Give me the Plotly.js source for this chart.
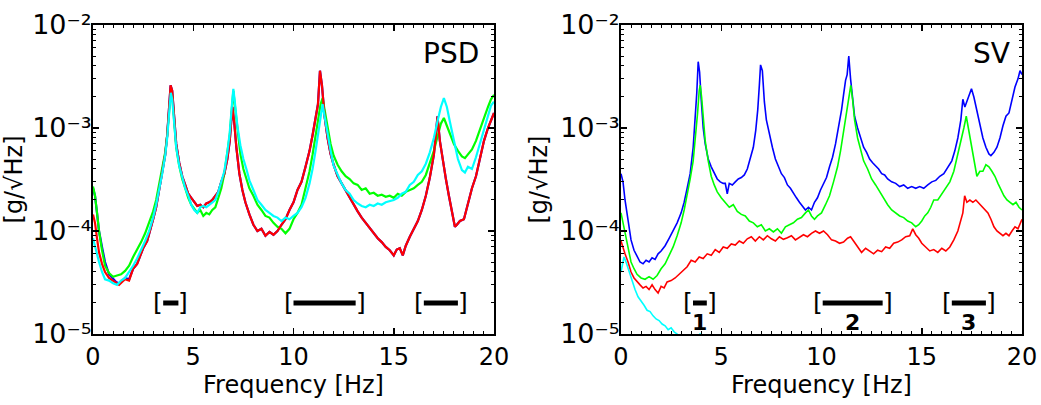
<!DOCTYPE html>
<html>
<head>
<meta charset="utf-8">
<script src="https://cdn.plot.ly/plotly-3.0.1.min.js"></script>
<style>html,body{margin:0;padding:0;background:#fff}</style>
</head>
<body>
<div id="chart" style="width:1041px;height:405px"></div>
<script>
// ---------- PSD panel data ----------
const psdF1 = [0,0.1,0.2,0.3,0.45,0.6,0.8,1.0,1.15,1.3,1.45,1.6,1.8,2.0,2.2,2.35,2.5,2.7,2.85,3.0,3.15,3.3,3.45,3.6,3.7,3.8,3.87,3.95,4.05,4.15,4.3,4.45,4.6,4.75,4.9,5.05,5.2,5.35,5.5,5.65,5.8,5.95,6.1,6.25,6.4,6.55,6.7,6.82,6.95,7.05,7.15,7.3,7.45,7.6,7.8,8.0,8.2,8.4,8.6,8.8,9.0,9.2,9.4,9.6,9.8,10.0,10.2,10.4,10.6,10.8,10.95,11.1,11.22,11.32,11.42,11.55,11.7,11.85,12.0,12.2,12.4,12.6,12.8,13.0,13.2,13.4,13.6,13.8,14.0,14.2,14.4,14.6,14.8,15.0,15.15,15.3,15.45,15.6,15.8,16.0,16.2,16.4,16.6,16.8,17.0,17.1,17.18,17.3,17.45,17.6,17.75,17.9,18.05,18.15,18.3,18.5,18.7,18.9,19.1,19.3,19.5,19.7,19.85,20.0];
const psdRed = [1.45e-4,1.2e-4,8.5e-5,6.2e-5,4.8e-5,4.0e-5,3.5e-5,3.3e-5,3.1e-5,3.0e-5,3.2e-5,3.4e-5,3.3e-5,4.3e-5,4.8e-5,5.6e-5,6.8e-5,8.0e-5,1.0e-4,1.3e-4,1.7e-4,2.5e-4,3.4e-4,5.5e-4,8.5e-4,1.5e-3,2.6e-3,2.3e-3,1.2e-3,7.0e-4,4.6e-4,3.4e-4,2.8e-4,2.3e-4,2.1e-4,1.9e-4,1.75e-4,1.8e-4,1.7e-4,1.85e-4,1.9e-4,2.0e-4,2.2e-4,2.4e-4,3.0e-4,3.6e-4,5.0e-4,7.5e-4,1.6e-3,1.1e-3,6.5e-4,3.6e-4,2.5e-4,1.9e-4,1.45e-4,1.15e-4,1.0e-4,1.05e-4,9.0e-5,9.8e-5,9.2e-5,1.0e-4,1.15e-4,1.3e-4,1.6e-4,1.9e-4,2.5e-4,3.0e-4,4.2e-4,6.0e-4,8.5e-4,1.2e-3,1.7e-3,3.6e-3,2.6e-3,1.3e-3,8.0e-4,5.6e-4,4.4e-4,3.4e-4,2.9e-4,2.5e-4,2.1e-4,1.8e-4,1.55e-4,1.35e-4,1.2e-4,1.05e-4,9.5e-5,8.5e-5,7.8e-5,7.0e-5,6.5e-5,5.8e-5,6.6e-5,6.8e-5,5.8e-5,7.2e-5,8.8e-5,1.05e-4,1.25e-4,1.6e-4,2.2e-4,3.3e-4,5.5e-4,8.5e-4,1.3e-3,7.5e-4,4.8e-4,3.2e-4,2.2e-4,1.6e-4,1.1e-4,1.15e-4,1.25e-4,1.3e-4,1.9e-4,2.6e-4,3.4e-4,5.0e-4,7.5e-4,1.0e-3,1.2e-3,1.4e-3];
const psdBlue = [2.6e-4,2.2e-4,1.5e-4,1.0e-4,7.0e-5,5.0e-5,3.8e-5,3.4e-5,3.2e-5,3.1e-5,3.3e-5,3.5e-5,3.4e-5,4.3e-5,4.8e-5,5.6e-5,6.8e-5,8.0e-5,1.0e-4,1.3e-4,1.7e-4,2.5e-4,3.4e-4,5.5e-4,8.5e-4,1.5e-3,2.6e-3,2.3e-3,1.2e-3,7.0e-4,4.6e-4,3.4e-4,2.8e-4,2.3e-4,2.1e-4,1.9e-4,1.75e-4,1.8e-4,1.7e-4,1.85e-4,1.9e-4,2.0e-4,2.2e-4,2.4e-4,3.0e-4,3.6e-4,5.0e-4,7.5e-4,1.6e-3,1.1e-3,6.5e-4,3.6e-4,2.5e-4,1.9e-4,1.45e-4,1.15e-4,1.0e-4,1.05e-4,9.0e-5,9.8e-5,9.2e-5,1.0e-4,1.15e-4,1.3e-4,1.6e-4,1.9e-4,2.5e-4,3.0e-4,4.2e-4,6.0e-4,8.5e-4,1.2e-3,1.7e-3,3.6e-3,2.6e-3,1.3e-3,8.0e-4,5.6e-4,4.4e-4,3.4e-4,2.9e-4,2.5e-4,2.1e-4,1.8e-4,1.55e-4,1.35e-4,1.2e-4,1.05e-4,9.5e-5,8.5e-5,7.8e-5,7.0e-5,6.5e-5,5.8e-5,6.6e-5,6.8e-5,5.8e-5,7.2e-5,8.8e-5,1.05e-4,1.25e-4,1.6e-4,2.2e-4,3.3e-4,5.5e-4,8.5e-4,1.3e-3,7.5e-4,4.8e-4,3.2e-4,2.2e-4,1.6e-4,1.1e-4,1.15e-4,1.25e-4,1.3e-4,1.9e-4,2.6e-4,3.4e-4,5.0e-4,7.5e-4,1.0e-3,1.2e-3,1.4e-3];
const psdF2 = [0,0.1,0.2,0.3,0.45,0.6,0.8,1.0,1.2,1.4,1.6,1.8,2.0,2.2,2.4,2.6,2.8,3.0,3.15,3.3,3.45,3.6,3.7,3.8,3.88,3.95,4.05,4.15,4.3,4.45,4.6,4.75,4.9,5.05,5.2,5.35,5.5,5.65,5.8,5.95,6.1,6.25,6.4,6.55,6.7,6.82,6.92,7.0,7.1,7.2,7.35,7.5,7.65,7.8,8.0,8.2,8.4,8.6,8.8,9.0,9.2,9.4,9.6,9.8,10.0,10.2,10.4,10.6,10.8,10.95,11.1,11.25,11.35,11.45,11.55,11.7,11.85,12.0,12.2,12.4,12.6,12.8,13.0,13.2,13.4,13.6,13.8,14.0,14.2,14.4,14.6,14.8,15.0,15.2,15.4,15.6,15.8,16.0,16.2,16.4,16.6,16.8,17.0,17.2,17.35,17.5,17.65,17.8,18.0,18.2,18.4,18.55,18.7,18.9,19.1,19.3,19.5,19.7,19.85,20.0];
const psdGreen = [2.7e-4,2.2e-4,1.5e-4,1.0e-4,6.5e-5,4.6e-5,3.9e-5,3.6e-5,3.7e-5,3.8e-5,4.1e-5,4.6e-5,5.6e-5,6.6e-5,7.8e-5,9.5e-5,1.2e-4,1.55e-4,2.0e-4,2.8e-4,3.8e-4,5.8e-4,8.5e-4,1.5e-3,2.3e-3,2.1e-3,1.1e-3,6.5e-4,4.3e-4,3.2e-4,2.6e-4,2.1e-4,1.8e-4,1.65e-4,1.5e-4,1.6e-4,1.4e-4,1.5e-4,1.45e-4,1.6e-4,1.7e-4,2.1e-4,2.6e-4,3.6e-4,5.5e-4,8.5e-4,1.5e-3,2.3e-3,1.5e-3,9.5e-4,5.6e-4,4.0e-4,3.2e-4,2.6e-4,2.2e-4,1.8e-4,1.6e-4,1.4e-4,1.35e-4,1.2e-4,1.1e-4,1.05e-4,9.5e-5,1.05e-4,1.3e-4,1.5e-4,1.8e-4,2.6e-4,3.8e-4,5.5e-4,8.5e-4,1.3e-3,1.7e-3,1.95e-3,1.5e-3,1.0e-3,7.0e-4,5.4e-4,4.4e-4,3.8e-4,3.4e-4,3.2e-4,2.9e-4,2.8e-4,2.5e-4,2.6e-4,2.3e-4,2.35e-4,2.2e-4,2.25e-4,2.15e-4,2.2e-4,2.1e-4,2.3e-4,2.2e-4,2.4e-4,2.5e-4,2.6e-4,2.8e-4,3.0e-4,3.5e-4,4.5e-4,6.0e-4,8.5e-4,1.1e-3,1.25e-3,1.05e-3,8.5e-4,7.0e-4,6.0e-4,5.3e-4,5.1e-4,5.5e-4,6.2e-4,7.5e-4,9.5e-4,1.25e-3,1.6e-3,1.9e-3,2.1e-3];
const psdCyan = [8.5e-5,7.0e-5,5.8e-5,5.0e-5,4.0e-5,3.4e-5,3.3e-5,3.1e-5,3.0e-5,3.3e-5,3.5e-5,4.0e-5,4.6e-5,5.4e-5,6.5e-5,8.0e-5,1.0e-4,1.35e-4,1.8e-4,2.5e-4,3.6e-4,5.4e-4,8.0e-4,1.4e-3,2.2e-3,1.9e-3,1.1e-3,6.5e-4,4.3e-4,3.3e-4,2.6e-4,2.2e-4,1.8e-4,1.6e-4,1.5e-4,1.7e-4,1.75e-4,1.7e-4,1.8e-4,1.9e-4,2.0e-4,2.4e-4,3.0e-4,3.8e-4,5.8e-4,9.0e-4,1.6e-3,2.4e-3,1.6e-3,1.05e-3,6.8e-4,5.0e-4,4.0e-4,3.1e-4,2.5e-4,2.0e-4,1.8e-4,1.6e-4,1.5e-4,1.4e-4,1.35e-4,1.25e-4,1.35e-4,1.3e-4,1.4e-4,1.5e-4,1.7e-4,2.1e-4,2.9e-4,4.0e-4,6.0e-4,9.0e-4,1.3e-3,1.7e-3,1.3e-3,8.5e-4,6.0e-4,4.3e-4,3.5e-4,2.9e-4,2.5e-4,2.3e-4,2.0e-4,1.85e-4,1.75e-4,1.7e-4,1.8e-4,1.75e-4,1.85e-4,1.8e-4,1.9e-4,1.95e-4,2.0e-4,2.1e-4,2.3e-4,2.4e-4,2.8e-4,3.0e-4,3.5e-4,3.8e-4,4.5e-4,5.8e-4,8.0e-4,1.2e-3,1.6e-3,1.95e-3,1.6e-3,1.15e-3,7.5e-4,5.0e-4,3.9e-4,3.7e-4,4.2e-4,4.0e-4,5.2e-4,7.0e-4,9.5e-4,1.3e-3,1.65e-3,1.8e-3];

// ---------- SV panel data ----------
const svBlueF = [0,0.1,0.2,0.35,0.5,0.65,0.8,0.95,1.1,1.25,1.4,1.55,1.7,1.85,2.0,2.2,2.4,2.6,2.8,3.0,3.15,3.3,3.45,3.6,3.7,3.78,3.85,3.92,4.0,4.1,4.2,4.35,4.5,4.65,4.8,4.95,5.1,5.2,5.3,5.4,5.55,5.7,5.85,6.0,6.15,6.3,6.45,6.6,6.72,6.82,6.9,6.96,7.05,7.15,7.25,7.4,7.55,7.7,7.85,8.0,8.15,8.3,8.45,8.6,8.75,8.9,9.05,9.2,9.35,9.5,9.65,9.8,9.95,10.1,10.25,10.4,10.55,10.7,10.85,11.0,11.1,11.2,11.28,11.36,11.45,11.55,11.65,11.8,11.95,12.1,12.25,12.4,12.55,12.7,12.85,13.0,13.15,13.3,13.5,13.7,13.9,14.1,14.3,14.5,14.7,14.9,15.1,15.3,15.5,15.7,15.9,16.1,16.3,16.5,16.65,16.8,16.95,17.05,17.15,17.25,17.35,17.48,17.6,17.75,17.9,18.05,18.2,18.35,18.45,18.6,18.75,18.9,19.05,19.2,19.35,19.5,19.65,19.8,19.9,20.0];
const svBlue = [3.6e-4,3.0e-4,2.0e-4,1.2e-4,8.2e-5,6.5e-5,5.6e-5,5.0e-5,4.8e-5,5.2e-5,5.0e-5,5.5e-5,5.3e-5,6.0e-5,6.4e-5,7.2e-5,8.5e-5,1.0e-4,1.2e-4,1.5e-4,1.9e-4,2.6e-4,3.6e-4,6.5e-4,1.2e-3,2.2e-3,4.4e-3,3.5e-3,1.9e-3,1.0e-3,7.0e-4,5.0e-4,4.2e-4,3.6e-4,3.2e-4,3.0e-4,2.9e-4,2.9e-4,2.3e-4,2.9e-4,2.8e-4,3.0e-4,3.2e-4,3.3e-4,3.5e-4,4.0e-4,5.0e-4,6.5e-4,9.5e-4,1.5e-3,2.6e-3,4.1e-3,3.6e-3,1.8e-3,1.2e-3,8.5e-4,6.5e-4,5.0e-4,4.2e-4,3.6e-4,3.3e-4,2.8e-4,2.6e-4,2.3e-4,2.1e-4,1.9e-4,1.75e-4,1.6e-4,1.7e-4,1.6e-4,1.9e-4,2.1e-4,2.5e-4,2.9e-4,3.3e-4,4.2e-4,5.2e-4,7.0e-4,1.0e-3,1.5e-3,2.1e-3,2.9e-3,3.3e-3,5.0e-3,3.0e-3,1.9e-3,1.3e-3,1.0e-3,8.0e-4,6.5e-4,5.8e-4,5.0e-4,4.6e-4,4.3e-4,4.0e-4,3.6e-4,3.5e-4,3.2e-4,3.0e-4,2.9e-4,2.7e-4,2.8e-4,2.6e-4,2.7e-4,2.6e-4,2.7e-4,2.6e-4,2.8e-4,3.0e-4,3.1e-4,3.4e-4,3.6e-4,4.2e-4,4.8e-4,6.0e-4,8.0e-4,1.2e-3,1.9e-3,1.6e-3,1.8e-3,2.0e-3,2.4e-3,2.0e-3,1.5e-3,1.1e-3,8.0e-4,6.5e-4,5.6e-4,5.4e-4,5.8e-4,6.5e-4,8.0e-4,1.05e-3,1.3e-3,1.4e-3,1.9e-3,2.5e-3,3.0e-3,3.6e-3,3.3e-3];
const svGreenF = [0,0.1,0.2,0.35,0.5,0.65,0.8,1.0,1.2,1.4,1.6,1.8,2.0,2.2,2.4,2.6,2.8,3.0,3.15,3.3,3.45,3.6,3.72,3.82,3.9,3.95,4.02,4.1,4.2,4.35,4.5,4.65,4.8,5.0,5.2,5.4,5.6,5.8,6.0,6.2,6.4,6.6,6.8,7.0,7.2,7.4,7.6,7.8,8.0,8.2,8.4,8.6,8.8,9.0,9.2,9.35,9.5,9.65,9.8,10.0,10.2,10.4,10.6,10.8,10.95,11.1,11.25,11.38,11.46,11.55,11.65,11.8,11.95,12.1,12.3,12.5,12.7,12.9,13.1,13.3,13.5,13.7,13.9,14.1,14.3,14.5,14.7,14.85,15.0,15.15,15.3,15.45,15.6,15.8,16.0,16.2,16.4,16.6,16.8,16.95,17.1,17.22,17.32,17.45,17.6,17.75,17.9,18.05,18.2,18.35,18.5,18.65,18.8,18.95,19.1,19.25,19.4,19.55,19.7,19.85,20.0];
const svGreen = [1.5e-4,1.2e-4,9.0e-5,6.5e-5,5.0e-5,4.3e-5,3.8e-5,3.5e-5,3.4e-5,3.6e-5,3.4e-5,3.7e-5,4.3e-5,4.8e-5,5.8e-5,7.0e-5,9.0e-5,1.2e-4,1.6e-4,2.2e-4,3.2e-4,4.8e-4,8.0e-4,1.4e-3,2.3e-3,2.6e-3,2.0e-3,1.2e-3,7.5e-4,4.8e-4,3.4e-4,2.8e-4,2.4e-4,2.1e-4,1.9e-4,1.7e-4,1.8e-4,1.55e-4,1.45e-4,1.4e-4,1.25e-4,1.2e-4,1.1e-4,1.15e-4,1.0e-4,1.05e-4,9.8e-5,1.05e-4,9.5e-5,1.1e-4,1.15e-4,1.2e-4,1.3e-4,1.35e-4,1.5e-4,1.6e-4,1.4e-4,1.3e-4,1.4e-4,1.5e-4,1.8e-4,2.2e-4,3.0e-4,4.2e-4,6.0e-4,9.0e-4,1.4e-3,2.1e-3,2.6e-3,1.9e-3,1.2e-3,8.0e-4,6.0e-4,4.8e-4,4.0e-4,3.2e-4,2.8e-4,2.4e-4,2.1e-4,1.8e-4,1.6e-4,1.5e-4,1.4e-4,1.35e-4,1.25e-4,1.2e-4,1.1e-4,1.15e-4,1.25e-4,1.4e-4,1.5e-4,1.7e-4,2.0e-4,2.0e-4,2.3e-4,2.6e-4,3.0e-4,3.8e-4,5.5e-4,7.5e-4,1.0e-3,1.3e-3,1.0e-3,7.0e-4,5.0e-4,3.4e-4,3.8e-4,3.8e-4,4.4e-4,4.2e-4,3.8e-4,3.4e-4,2.9e-4,2.5e-4,2.2e-4,2.0e-4,1.9e-4,1.8e-4,1.9e-4,1.7e-4,1.6e-4];
const svRedF = [0,0.1,0.2,0.35,0.5,0.65,0.8,0.95,1.1,1.25,1.4,1.55,1.7,1.85,2.0,2.15,2.3,2.5,2.7,2.9,3.1,3.3,3.5,3.7,3.9,4.1,4.3,4.5,4.7,4.9,5.1,5.3,5.5,5.7,5.9,6.1,6.3,6.5,6.7,6.9,7.1,7.3,7.5,7.7,7.9,8.1,8.3,8.5,8.7,8.9,9.1,9.3,9.5,9.7,9.9,10.1,10.3,10.5,10.7,10.9,11.1,11.3,11.45,11.6,11.8,12.0,12.2,12.4,12.6,12.8,13.0,13.2,13.4,13.6,13.8,14.0,14.2,14.4,14.55,14.7,14.85,15.0,15.2,15.4,15.6,15.8,16.0,16.2,16.4,16.6,16.8,16.95,17.05,17.14,17.25,17.4,17.55,17.7,17.85,18.0,18.15,18.3,18.45,18.6,18.75,18.9,19.05,19.2,19.35,19.5,19.65,19.8,20.0];
const svRed = [8.0e-5,6.8e-5,6.0e-5,5.0e-5,4.0e-5,3.5e-5,3.2e-5,3.0e-5,2.8e-5,2.9e-5,2.7e-5,3.0e-5,2.7e-5,2.5e-5,2.9e-5,2.8e-5,3.2e-5,3.3e-5,3.5e-5,3.8e-5,4.2e-5,4.5e-5,5.2e-5,5.0e-5,5.6e-5,5.4e-5,6.0e-5,5.8e-5,6.6e-5,6.2e-5,7.0e-5,6.8e-5,7.5e-5,7.3e-5,8.0e-5,7.6e-5,8.4e-5,8.8e-5,8.0e-5,8.8e-5,8.2e-5,9.0e-5,8.4e-5,8.0e-5,8.8e-5,8.3e-5,8.6e-5,9.0e-5,8.2e-5,8.7e-5,9.2e-5,8.8e-5,9.5e-5,1.0e-4,9.5e-5,1.0e-4,9.2e-5,8.2e-5,8.0e-5,7.6e-5,7.8e-5,8.5e-5,8.8e-5,8.0e-5,7.0e-5,6.2e-5,6.8e-5,6.4e-5,6.0e-5,6.5e-5,6.3e-5,7.0e-5,6.8e-5,7.6e-5,7.8e-5,8.2e-5,8.8e-5,9.0e-5,1.05e-4,9.2e-5,8.5e-5,7.6e-5,7.0e-5,6.4e-5,6.6e-5,6.2e-5,6.8e-5,6.4e-5,7.0e-5,8.2e-5,1.0e-4,1.25e-4,1.5e-4,2.2e-4,1.9e-4,2.0e-4,1.9e-4,2.0e-4,1.85e-4,1.75e-4,1.6e-4,1.5e-4,1.3e-4,1.1e-4,1.0e-4,9.5e-5,9.0e-5,9.5e-5,9.0e-5,1.0e-4,1.1e-4,1.05e-4,1.3e-4];
const svCyanF = [0,0.08,0.15,0.25,0.4,0.55,0.7,0.85,1.0,1.15,1.3,1.45,1.6,1.75,1.9,2.05,2.2,2.35,2.5,2.65,2.8,3.0,3.3,3.6,3.94,4.2];
const svCyan = [4.0e-5,5.0e-5,5.6e-5,5.0e-5,4.0e-5,3.2e-5,2.7e-5,2.3e-5,2.1e-5,1.9e-5,1.7e-5,1.65e-5,1.5e-5,1.4e-5,1.35e-5,1.25e-5,1.2e-5,1.1e-5,1.15e-5,1.05e-5,1.0e-5,9.0e-6,9.5e-6,8.5e-6,1.0e-5,8.0e-6];

// ---------- frequency bands (Hz) ----------
const psdBandStart = [3.5, 10.0, 16.5];
const psdBandEnd   = [4.26, 13.1, 18.2];
const svBandStart  = [3.59, 10.06, 16.5];
const svBandEnd    = [4.28, 13.05, 18.2];
const svBandLabels = ['1', '2', '3'];
const bandLevel = 2.0e-5;
const labelLevel = 1.3e-5;

const yTickVals = [1e-5, 1e-4, 1e-3, 1e-2];
const yTickText = ['10\u207B\u2075', '10\u207B\u2074', '10\u207B\u00B3', '10\u207B\u00B2'];
const xTickVals = [0, 5, 10, 15, 20];

const COL = {blue:'#0000ff', green:'#00ff00', red:'#ff0000', cyan:'#00ffff'};
const FONT = 'DejaVu Sans, Verdana, sans-serif';

function line(x, y, color, w, xa, ya) {
  return {type:'scatter', mode:'lines', x:x, y:y, xaxis:xa, yaxis:ya,
          line:{color:color, width:w}, hoverinfo:'skip'};
}

const traces = [
  line(psdF1, psdBlue, COL.blue, 2.2, 'x', 'y'),
  line(psdF2, psdGreen, COL.green, 2.2, 'x', 'y'),
  line(psdF1, psdRed, COL.red, 2.2, 'x', 'y'),
  line(psdF2, psdCyan, COL.cyan, 2.2, 'x', 'y'),
  line(svBlueF, svBlue, COL.blue, 1.6, 'x2', 'y2'),
  line(svGreenF, svGreen, COL.green, 1.6, 'x2', 'y2'),
  line(svRedF, svRed, COL.red, 1.6, 'x2', 'y2'),
  line(svCyanF, svCyan, COL.cyan, 1.6, 'x2', 'y2')
];

const annotations = [];
function addBands(starts, ends, xa, ya, labels) {
  for (let i = 0; i < starts.length; i++) {
    traces.push({type:'scatter', mode:'lines', x:[starts[i], ends[i]], y:[bandLevel, bandLevel],
      xaxis:xa, yaxis:ya, line:{color:'black', width:5}, hoverinfo:'skip'});
    annotations.push({xref:xa, yref:ya, x:starts[i], y:Math.log10(bandLevel), xshift:-5, text:'[',
      showarrow:false, xanchor:'center', yanchor:'middle', font:{family:FONT, size:25, color:'black'}});
    annotations.push({xref:xa, yref:ya, x:ends[i], y:Math.log10(bandLevel), xshift:5, text:']',
      showarrow:false, xanchor:'center', yanchor:'middle', font:{family:FONT, size:25, color:'black'}});
    if (labels) {
      annotations.push({xref:xa, yref:ya, x:(starts[i] + ends[i]) / 2, y:Math.log10(labelLevel), text:'<b>' + labels[i] + '</b>',
        showarrow:false, xanchor:'center', yanchor:'middle', font:{family:FONT, size:22, color:'black'}});
    }
  }
}
addBands(psdBandStart, psdBandEnd, 'x', 'y', null);
addBands(svBandStart, svBandEnd, 'x2', 'y2', svBandLabels);

annotations.push({xref:'paper', yref:'paper', x:481/1041, y:1 - 54/405, text:'PSD', showarrow:false,
  xanchor:'right', yanchor:'middle', font:{family:FONT, size:28, color:'black'}});
annotations.push({xref:'paper', yref:'paper', x:1012/1041, y:1 - 54/405, text:'SV', showarrow:false,
  xanchor:'right', yanchor:'middle', font:{family:FONT, size:28, color:'black'}});

const minorY = [];
for (let e = -5; e < -2; e++) for (let d = 2; d <= 9; d++) minorY.push(d * Math.pow(10, e));

function xAxis(domain, anchor) {
  return {domain:domain, anchor:anchor, range:[0, 20], tickmode:'array', tickvals:xTickVals,
    ticks:'inside', ticklen:6, tickwidth:1.5, tickcolor:'black',
    showline:true, linewidth:2, linecolor:'black', mirror:'ticks', showgrid:false, zeroline:false,
    tickfont:{family:FONT, size:24, color:'black'},
    minor:{tickmode:'linear', tick0:0, dtick:0.5, ticks:'inside', ticklen:3, tickwidth:1, tickcolor:'black', showgrid:false},
    title:{text:'Frequency [Hz]', font:{family:FONT, size:24, color:'black'}, standoff:2}};
}
function yAxis(anchor) {
  return {domain:[71/405, 380/405], anchor:anchor, type:'log', range:[-5, -2], tickmode:'array',
    tickvals:yTickVals, ticktext:yTickText,
    ticks:'inside', ticklen:6, tickwidth:1.5, tickcolor:'black', ticklabelstandoff:-6,
    showline:true, linewidth:2, linecolor:'black', mirror:'ticks', showgrid:false, zeroline:false,
    tickfont:{family:FONT, size:27, color:'black'},
    minor:{tickmode:'array', tickvals:minorY, ticks:'inside', ticklen:3, tickwidth:1, tickcolor:'black', showgrid:false},
    title:{text:'[g/√Hz]', font:{family:FONT, size:24, color:'black'}, standoff:6}};
}

const layout = {
  width:1041, height:405, margin:{l:0, r:0, t:0, b:0},
  paper_bgcolor:'white', plot_bgcolor:'white', showlegend:false,
  font:{family:FONT, size:22, color:'black'},
  xaxis:xAxis([93/1041, 494/1041], 'y'),
  yaxis:yAxis('x'),
  xaxis2:xAxis([621/1041, 1022/1041], 'y2'),
  yaxis2:yAxis('x2'),
  annotations:annotations
};

Plotly.newPlot('chart', traces, layout, {displayModeBar:false, staticPlot:true});
</script>
</body>
</html>
